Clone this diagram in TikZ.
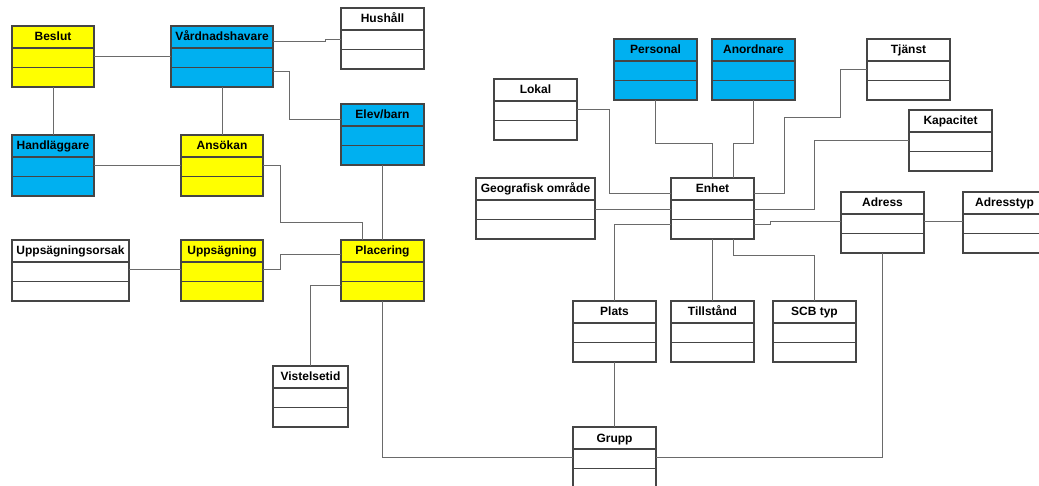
\documentclass[tikz,border=0pt]{standalone}
\usepackage{fontspec}
\setmainfont{Liberation Sans}
\definecolor{uyellow}{HTML}{FFFF00}
\definecolor{ublue}{HTML}{00B0F0}
\definecolor{uborder}{HTML}{454545}
\definecolor{uconn}{HTML}{6A6A6A}
\tikzset{
  clsbox/.style={draw=uborder, line width=1.1pt, rectangle, inner sep=0pt, outer sep=0pt, minimum height=61pt, anchor=north west},
  clsline/.style={draw=uborder, line width=1.1pt},
  clstitle/.style={font=\fontsize{12}{14}\selectfont\bfseries, inner sep=0pt, text=black, anchor=base},
  conn/.style={draw=uconn, line width=1pt},
}
\newcommand{\umlcls}[6]{%
  \node[clsbox, fill=#5, minimum width=#4pt] (#1) at (#2,#3) {};
  \draw[clsline] ([yshift=-22pt]#1.north west) -- ([yshift=-22pt]#1.north east);
  \draw[clsline] ([yshift=-41.5pt]#1.north west) -- ([yshift=-41.5pt]#1.north east);
  \node[clstitle] at ([yshift=-15pt]#1.north) {#6};
}
\begin{document}
\begin{tikzpicture}[x=1pt,y=-1pt]
\useasboundingbox (0,0) rectangle (1039,486);
\clip (0,0) rectangle (1039,486);
\fill[white] (0,0) rectangle (1039,486);
% left classes
\umlcls{beslut}{12}{26}{82}{uyellow}{Beslut}
\umlcls{vard}{171}{26}{102}{ublue}{Vårdnadshavare}
\umlcls{hush}{341}{8}{83}{white}{Hushåll}
\umlcls{elev}{341}{104}{83}{ublue}{Elev/barn}
\umlcls{handl}{12}{135}{82}{ublue}{Handläggare}
\umlcls{ans}{181}{135}{82}{uyellow}{Ansökan}
\umlcls{uorsak}{12}{240}{117}{white}{Uppsägningsorsak}
\umlcls{upps}{181}{240}{82}{uyellow}{Uppsägning}
\umlcls{plac}{341}{240}{83}{uyellow}{Placering}
\umlcls{vist}{273}{366}{75}{white}{Vistelsetid}
% right classes
\umlcls{lokal}{494}{79}{83}{white}{Lokal}
\umlcls{pers}{614}{39}{83}{ublue}{Personal}
\umlcls{anord}{712}{39}{83}{ublue}{Anordnare}
\umlcls{tjanst}{867}{39}{83}{white}{Tjänst}
\umlcls{kap}{909}{110}{83}{white}{Kapacitet}
\umlcls{geo}{476}{178}{119}{white}{Geografisk område}
\umlcls{enhet}{671}{178}{83}{white}{Enhet}
\umlcls{adress}{841}{192}{83}{white}{Adress}
\umlcls{adrtyp}{963}{192}{83}{white}{Adresstyp}
\umlcls{plats}{573}{301}{83}{white}{Plats}
\umlcls{tillst}{671}{301}{83}{white}{Tillstånd}
\umlcls{scb}{773}{301}{83}{white}{SCB typ}
\umlcls{grupp}{573}{427}{83}{white}{Grupp}
% left connectors
\draw[conn] (beslut.east |- 0,57) -- (vard.west |- 0,57);
\draw[conn] (vard.east |- 0,41.3) -- (325,41.3) -- (325,39.3) -- (hush.west |- 0,39.3);
\draw[conn] (vard.east |- 0,71.3) -- (289.7,71.3) -- (289.7,119.3) -- (elev.west |- 0,119.3);
\draw[conn] (beslut.south) -- (handl.north);
\draw[conn] (vard.south) -- (ans.north);
\draw[conn] (handl.east |- 0,165.3) -- (ans.west |- 0,165.3);
\draw[conn] (ans.east |- 0,165.3) -- (280,165.3) -- (280,223) -- (362,223) -- (plac.north -| 362,0);
\draw[conn] (elev.south) -- (plac.north);
\draw[conn] (uorsak.east |- 0,270) -- (upps.west |- 0,270);
\draw[conn] (upps.east |- 0,270) -- (280,270) -- (280,255) -- (plac.west |- 0,255);
\draw[conn] (plac.west |- 0,285.3) -- (vist.north |- 0,285.3) -- (vist.north);
\draw[conn] (plac.south) -- (plac.south |- 0,457.5) -- (grupp.west |- 0,457.5);
% right connectors
\draw[conn] (lokal.east |- 0,110) -- (609,110) -- (609,194) -- (enhet.west |- 0,194);
\draw[conn] (pers.south) -- (pers.south |- 0,143.7) -- (enhet.north |- 0,143.7) -- (enhet.north);
\draw[conn] (anord.south) -- (anord.south |- 0,143.7) -- (733.1,143.7) -- (enhet.north -| 733.1,0);
\draw[conn] (tjanst.west |- 0,70) -- (840.9,70) -- (840.9,117.7) -- (784.3,117.7) -- (784.3,194) -- (enhet.east |- 0,194);
\draw[conn] (kap.west |- 0,140.3) -- (814.7,140.3) -- (814.7,209.3) -- (enhet.east |- 0,209.3);
\draw[conn] (geo.east |- 0,209.3) -- (enhet.west |- 0,209.3);
\draw[conn] (enhet.east |- 0,224.3) -- (770.1,224.3) -- (770.1,222) -- (adress.west |- 0,222);
\draw[conn] (adress.east |- 0,222) -- (adrtyp.west |- 0,222);
\draw[conn] (enhet.west |- 0,224.3) -- (plats.north |- 0,224.3) -- (plats.north);
\draw[conn] (enhet.south) -- (tillst.north);
\draw[conn] (enhet.south -| 733.1,0) -- (733.1,255.7) -- (scb.north |- 0,255.7) -- (scb.north);
\draw[conn] (plats.south) -- (grupp.north);
\draw[conn] (adress.south) -- (adress.south |- 0,457.7) -- (grupp.east |- 0,457.7);
\end{tikzpicture}
\end{document}
